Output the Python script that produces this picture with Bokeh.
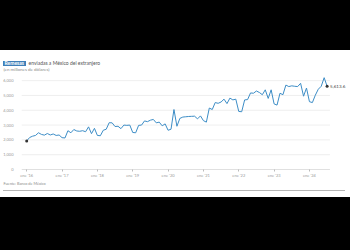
from bokeh.plotting import figure
from bokeh.models import Range1d, FixedTicker, Label, Div, ColumnDataSource, NumeralTickFormatter
from bokeh.layouts import column
from bokeh.embed import file_html
from bokeh.resources import INLINE

# Remesas mensuales (millones de dólares), ene 2016 - jul 2024
r2016 = [1930, 2160, 2250, 2300, 2480, 2370, 2320, 2430, 2330, 2400, 2300, 2330]
r2017 = [2150, 2130, 2620, 2480, 2700, 2600, 2580, 2620, 2550, 2880, 2420, 2780]
r2018 = [2300, 2280, 2650, 2720, 3160, 3150, 2900, 2920, 2760, 3000, 2980, 3000]
r2019 = [2500, 2480, 2980, 3000, 3280, 3230, 3330, 3380, 3150, 3200, 2950, 3080]
r2020 = [2650, 2720, 4050, 2920, 3450, 3540, 3560, 3580, 3590, 3600, 3420, 3620]
r2021 = [3300, 3200, 4150, 4050, 4520, 4470, 4560, 4750, 4450, 4820, 4700, 4750]
r2022 = [3920, 3900, 4700, 4720, 5170, 5150, 5300, 5200, 5050, 5380, 4800, 5380]
r2023 = [4430, 4350, 5150, 5050, 5700, 5600, 5650, 5620, 5600, 5820, 4950, 5500]
r2024 = [4580, 4520, 5020, 5420, 5620, 6200, 5613.6]

start_year = 2016
tick_years = [2016, 2017, 2018, 2019, 2020, 2021, 2022, 2023, 2024]
tick_labels = ["ene '16", "ene '17", "ene '18", "ene '19", "ene '20",
               "ene '21", "ene '22", "ene '23", "ene '24"]
y_ticks = [0, 1000, 2000, 3000, 4000, 5000, 6000]

title_hl = "Remesas"
title_rest = "enviadas a México del extranjero"
subtitle = "(en millones de dólares)"
source_txt = "Fuente: Banco de México"

values = r2016 + r2017 + r2018 + r2019 + r2020 + r2021 + r2022 + r2023 + r2024
xs = [start_year + i / 12 for i in range(len(values))]

FONT = "Lato"
LINE = "#3d8dc6"

x_start = start_year - 0.147
grid_end = 2024.58

p = figure(width=350, height=108, output_backend="svg", toolbar_location=None,
           x_range=Range1d(x_start, start_year + 9.105), y_range=Range1d(0, 6280),
           min_border_left=14, min_border_right=2, min_border_top=4, min_border_bottom=11,
           background_fill_color="white", border_fill_color="white")
p.outline_line_color = None
p.xgrid.grid_line_color = None
p.ygrid.grid_line_color = None

# horizontal grid lines (stop before the end label)
gy = [t for t in y_ticks if t > 0]
p.segment(x0=[x_start] * len(gy), x1=[grid_end] * len(gy), y0=gy, y1=gy,
          line_color="#e6e6e6", line_width=0.7)
# baseline
p.segment(x0=[x_start], x1=[grid_end], y0=[0], y1=[0], line_color="#bbbbbb", line_width=0.9)

p.yaxis.ticker = FixedTicker(ticks=y_ticks)
p.yaxis.formatter = NumeralTickFormatter(format="0,0")
p.yaxis.axis_line_color = None
p.yaxis.major_tick_line_color = None
p.yaxis.minor_tick_line_color = None
p.yaxis.major_label_standoff = 2
p.yaxis.major_label_text_font = FONT
p.yaxis.major_label_text_font_size = "4px"
p.yaxis.major_label_text_color = "#9a9a9a"

p.xaxis.ticker = FixedTicker(ticks=tick_years)
p.xaxis.major_label_overrides = {y: l for y, l in zip(tick_years, tick_labels)}
p.xaxis.axis_line_color = None
p.xaxis.major_tick_line_color = "#bbbbbb"
p.xaxis.major_tick_out = 2
p.xaxis.major_tick_in = 0
p.xaxis.minor_tick_line_color = None
p.xaxis.major_label_standoff = 1
p.xaxis.major_label_text_font = FONT
p.xaxis.major_label_text_font_size = "4px"
p.xaxis.major_label_text_color = "#9a9a9a"

src = ColumnDataSource(dict(x=xs, y=values))
p.line("x", "y", source=src, line_color=LINE, line_width=1.0)
ends = ColumnDataSource(dict(x=[xs[0], xs[-1]], y=[values[0], values[-1]]))
p.scatter("x", "y", source=ends, size=3, fill_color="#333333", line_color=None)

p.add_layout(Label(x=xs[-1], y=values[-1], text=f"{values[-1]:,.1f}", x_offset=3,
                   text_baseline="middle", text_font=FONT, text_font_size="4.5px",
                   text_color="#444444"))

header_html = (
    f'<div style="position:relative;width:350px;height:22px;font-family:Lato;">'
    f'<span style="position:absolute;left:3px;top:11px;height:5px;line-height:5px;'
    f'font-size:5px;font-weight:bold;color:white;background:#3f7fb8;padding:0 1.5px;">{title_hl}</span>'
    f'<span style="position:absolute;left:28.5px;top:11px;line-height:5px;'
    f'font-size:5px;color:#555555;white-space:nowrap;">{title_rest}</span>'
    f'<span style="position:absolute;left:3.5px;top:17px;line-height:5px;'
    f'font-size:4.5px;color:#8a8a8a;white-space:nowrap;">{subtitle}</span>'
    f'</div>'
)
source_html = (
    f'<div style="position:relative;width:350px;height:17px;font-family:Lato;">'
    f'<span style="position:absolute;left:3.5px;top:2px;line-height:4px;'
    f'font-size:3.8px;color:#8a8a8a;white-space:nowrap;">{source_txt}</span>'
    f'<div style="position:absolute;left:3px;top:10px;width:342px;height:1px;'
    f'background:#b5b5b5;"></div>'
    f'</div>'
)

top = Div(text="", width=350, height=50, margin=0, styles={"background-color": "black"})
header = Div(text=header_html, width=350, height=22, margin=0, styles={"background-color": "white"})
source = Div(text=source_html, width=350, height=17, margin=0, styles={"background-color": "white"})
bottom = Div(text="", width=350, height=53, margin=0, styles={"background-color": "black"})

layout = column(top, header, p, source, bottom, spacing=0)
open("out.html", "w").write(file_html(layout, INLINE))
